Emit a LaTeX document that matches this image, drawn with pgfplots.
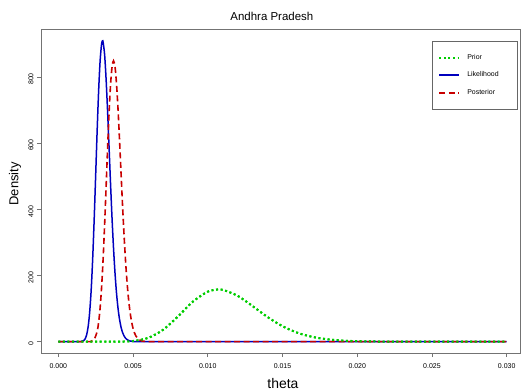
\documentclass[border=0pt]{standalone}
\usepackage{fontspec}
\setmainfont{Liberation Sans}
\usepackage{pgfplots}
\pgfplotsset{compat=1.18}
\definecolor{priorgreen}{RGB}{0,205,0}
\definecolor{likeblue}{RGB}{0,0,190}
\definecolor{postred}{RGB}{200,0,0}
\pgfplotstableread{
x y
0 0
0.003 0
0.004 0.18
0.005 2.07
0.006 11.2
0.007 35.6
0.008 76.0
0.009 120.9
0.010 151.2
0.0107 158
0.011 156.9
0.012 138.7
0.013 107.5
0.014 74.5
0.015 46.8
0.016 27.0
0.017 14.5
0.018 7.27
0.019 3.44
0.020 1.54
0.022 0.27
0.024 0.04
0.027 0
0.030 0
}\priortab
\begin{document}
\begin{tikzpicture}
\useasboundingbox (-41bp,-38bp) rectangle (480bp,353bp);
\begin{axis}[
  scale only axis,
  width=479bp, height=324bp,
  xmin=-0.001157, xmax=0.03089,
  ymin=-34.2, ymax=945.1,
  axis line style={draw=black!55, line width=0.8bp},
  every tick/.style={draw=black!55, line width=0.6bp},
  tick align=outside,
  major tick length=4bp,
  xtick={0,0.005,0.010,0.015,0.020,0.025,0.030},
  ytick={0,200,400,600,800},
  xtick pos=bottom, ytick pos=left,
  scaled x ticks=false,
  /pgf/number format/assume math mode=true,
  xticklabel style={font=\fontsize{7}{8}\selectfont, /pgf/number format/.cd, fixed, fixed zerofill, precision=3},
  yticklabel style={font=\fontsize{7}{8}\selectfont, rotate=90, anchor=south, xshift=-2bp},
  xticklabel shift=3bp,
  title={Andhra Pradesh},
  title style={at={(0.482,1.040)}, anchor=center, yshift=-6pt, font=\fontsize{11.5}{13}\selectfont},
  xlabel={theta},
  xlabel style={at={(0.505,-0.1111)}, anchor=base, font=\fontsize{14}{16}\selectfont},
  ylabel={Density},
  ylabel style={at={(-0.0543,0.522)}, anchor=center, font=\fontsize{13}{15}\selectfont},
  legend cell align=left,
  legend image code/.code={\draw[#1] (0bp,0bp) -- (20bp,0bp);},
  legend style={at={(0.816,0.963)}, anchor=north west, draw=black!60, line width=0.8bp,
    inner xsep=6bp, inner ysep=11bp, row sep=7bp,
    font=\fontsize{7}{8}\selectfont,
    nodes={inner sep=2bp},
    /tikz/every odd column/.append style={column sep=5bp}},
]
\addplot[priorgreen, line width=2bp, dash pattern=on 2bp off 2.6bp, smooth] table[x=x,y=y] {\priortab};
\addlegendentry{\makebox[42bp][l]{Prior}}
\addplot[likeblue, line width=1.5bp, smooth] coordinates {
(0,0)(0.0012,0)(0.0015,0.25)(0.0017,3.1)(0.0018,8.75)(0.0019,21.4)(0.0020,46.1)(0.0021,89.5)(0.0022,156)(0.0023,250)(0.0024,368.5)(0.0025,502)(0.0026,638)(0.0027,759)(0.0028,850)(0.0029,901)(0.00296,909)(0.0030,905)(0.0031,867)(0.0032,792)(0.0033,694)(0.0034,584)(0.0035,473)(0.0036,369)(0.0037,279)(0.0038,204)(0.0039,144.6)(0.0040,99.5)(0.0041,66.9)(0.0042,43.6)(0.0043,27.8)(0.0044,17.3)(0.0045,10.5)(0.0047,3.6)(0.0050,0.64)(0.0055,0)(0.010,0)(0.020,0)(0.030,0)
};
\addlegendentry{\makebox[42bp][l]{Likelihood}}
\addplot[postred, line width=1.6bp, dash pattern=on 6bp off 3.5bp, smooth] coordinates {
(0,0)(0.0020,0.08)(0.0022,0.9)(0.0024,6.6)(0.0026,31.1)(0.0027,59.0)(0.0028,103)(0.0029,166.7)(0.0030,251)(0.0031,354)(0.0032,469)(0.0033,587)(0.0034,694)(0.0035,779)(0.0036,832)(0.003695,849)(0.0038,829)(0.0039,776)(0.0040,700)(0.0041,607)(0.0042,508)(0.0043,411)(0.0044,322)(0.0045,244)(0.0046,180)(0.0047,129)(0.0048,89.8)(0.0049,61.1)(0.0050,40.5)(0.0051,26.2)(0.0052,16.6)(0.0054,6.2)(0.0056,2.1)(0.0060,0.2)(0.0065,0)(0.010,0)(0.020,0)(0.030,0)
};
\addlegendentry{\makebox[42bp][l]{Posterior}}
\addplot[priorgreen, line width=2bp, dash pattern=on 2bp off 2.6bp, smooth, forget plot] table[x=x,y=y] {\priortab};
\end{axis}
\end{tikzpicture}
\end{document}
